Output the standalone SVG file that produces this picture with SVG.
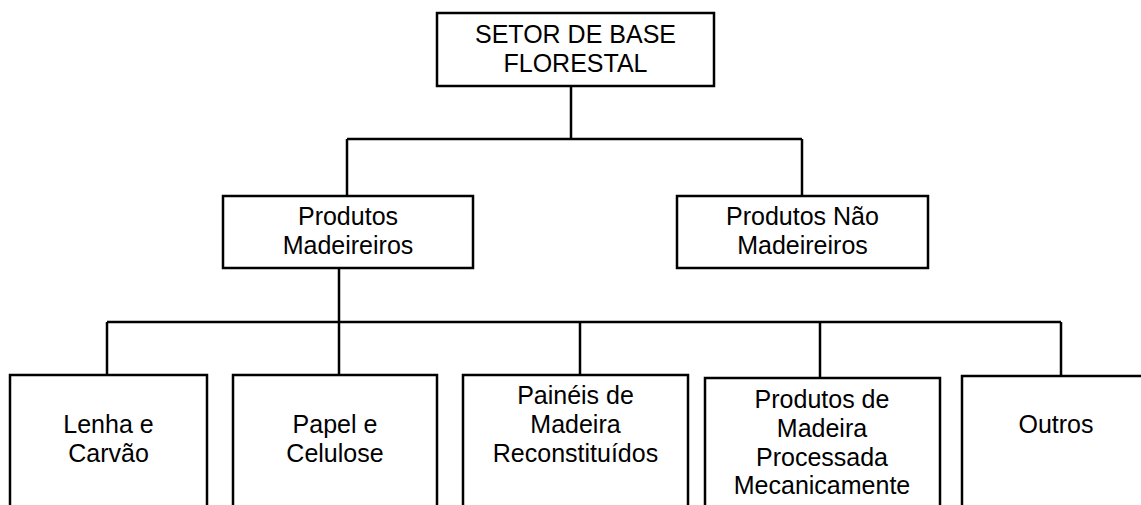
<svg xmlns="http://www.w3.org/2000/svg" width="1141" height="505" viewBox="0 0 1141 505">
<style>
.box{fill:#fff;stroke:#000;stroke-width:2.5}
.c{fill:none;stroke:#000;stroke-width:2.5}
text{font-family:"Liberation Sans",Arial,sans-serif;font-size:25px;fill:#000;text-anchor:middle}
</style>
<rect width="1141" height="505" fill="#fff"/>
<g id="connectors">
<path class="c" d="M571 86V139M347 139H802M347 139V196M802 139V196"/>
<path class="c" d="M339 268V375M107 322H1061M107 322V375M580 322V375M820 322V377M1061 322V376"/>
</g>
<g id="n-setor">
<rect class="box" x="437" y="13" width="277" height="73"/>
<text x="575.5" y="43">SETOR DE BASE</text>
<text x="575.5" y="72">FLORESTAL</text>
</g>
<g id="n-madeireiros">
<rect class="box" x="223" y="196" width="250" height="72"/>
<text x="348" y="225">Produtos</text>
<text x="348" y="254">Madeireiros</text>
</g>
<g id="n-nao-madeireiros">
<rect class="box" x="677" y="196" width="251" height="72"/>
<text x="802.5" y="225">Produtos Não</text>
<text x="802.5" y="254">Madeireiros</text>
</g>
<g id="n-lenha">
<rect class="box" x="10" y="375" width="197" height="160"/>
<text x="108.5" y="433">Lenha e</text>
<text x="108.5" y="462">Carvão</text>
</g>
<g id="n-papel">
<rect class="box" x="233" y="375" width="204" height="160"/>
<text x="335" y="433">Papel e</text>
<text x="335" y="462">Celulose</text>
</g>
<g id="n-paineis">
<rect class="box" x="463" y="375" width="225" height="160"/>
<text x="575.5" y="404">Painéis de</text>
<text x="575.5" y="433">Madeira</text>
<text x="575.5" y="462">Reconstituídos</text>
</g>
<g id="n-processada">
<rect class="box" x="705" y="378" width="235" height="160"/>
<text x="822" y="408">Produtos de</text>
<text x="822" y="437">Madeira</text>
<text x="822" y="466">Processada</text>
<text x="822" y="494">Mecanicamente</text>
</g>
<g id="n-outros">
<rect class="box" x="962" y="376" width="200" height="160"/>
<text x="1056" y="433">Outros</text>
</g>
</svg>
